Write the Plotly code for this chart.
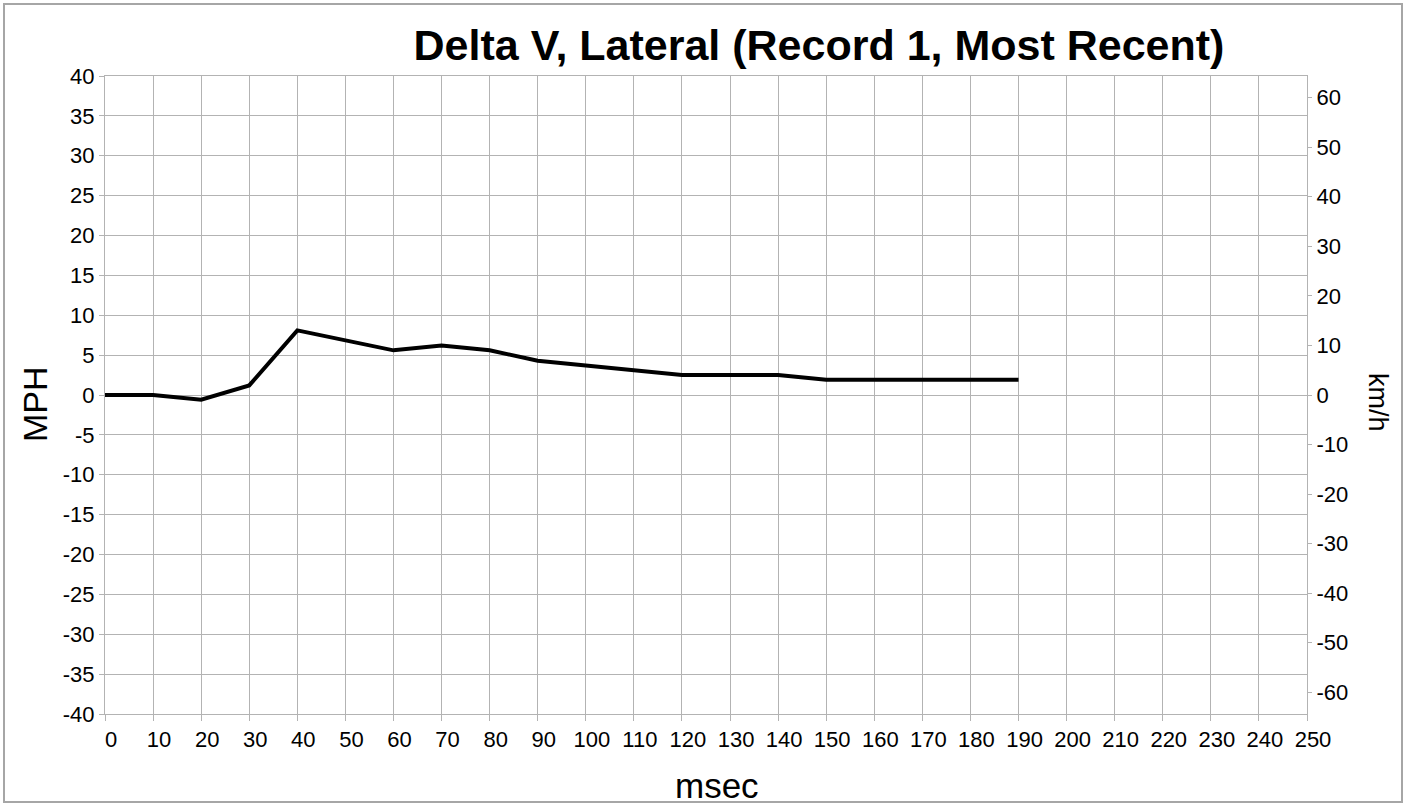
import plotly.graph_objects as go

# ---- data ----
time_ms = [0, 10, 20, 30, 40, 50, 60, 70, 80, 90, 100, 110, 120, 130, 140, 150, 160, 170, 180, 190]
delta_v_mph = [0, 0, -0.6, 1.2, 8.1, 6.8, 5.6, 6.2, 5.6, 4.3, 3.7, 3.1, 2.5, 2.5, 2.5, 1.9, 1.9, 1.9, 1.9, 1.9]
x_ticks = list(range(0, 251, 10))
mph_ticks = list(range(-40, 41, 5))
kmh_ticks = list(range(-60, 61, 10))
MPH_TO_KMH = 1.609344

title_text = "Delta V, Lateral (Record 1, Most Recent)"

W, H = 1409, 804
L, R, T, B = 105, 102, 76, 90
PW, PH = W - L - R, H - T - B

def px_x(px):
    return (px - L) / PW

def px_y(py):
    return (H - B - py) / PH

FONT = "Liberation Sans, Arial, sans-serif"
GRID = "#b3b3b3"

fig = go.Figure()
fig.add_trace(go.Scatter(x=time_ms, y=delta_v_mph, mode="lines",
                         line=dict(color="black", width=4),
                         showlegend=False, hoverinfo="x+y"))
fig.add_trace(go.Scatter(x=time_ms, y=[v * MPH_TO_KMH for v in delta_v_mph],
                         mode="lines", yaxis="y2", line=dict(width=0, color="rgba(0,0,0,0)"),
                         showlegend=False, hoverinfo="skip"))

fig.update_layout(
    width=W, height=H,
    margin=dict(l=L, r=R, t=T, b=B, pad=0),
    paper_bgcolor="white", plot_bgcolor="white",
    font=dict(family=FONT, color="black", size=22),
    title=dict(text=title_text, xref="paper", x=px_x(819), xanchor="center",
               yref="container", y=1 - 45 / H, yanchor="middle",
               font=dict(family=FONT, size=43, weight="bold", color="black")),
    xaxis=dict(range=[0, 250], tickvals=x_ticks, ticktext=[str(v) for v in x_ticks],
               showgrid=True, gridcolor=GRID, gridwidth=1,
               showline=True, linecolor=GRID, linewidth=1, mirror=True,
               ticks="outside", ticklen=6, tickcolor=GRID, tickwidth=1,
               ticklabelshift=6, zeroline=False,
               tickfont=dict(size=22, family=FONT, color="black")),
    yaxis=dict(range=[-40, 40], tickvals=mph_ticks, ticktext=[str(v) for v in mph_ticks],
               showgrid=True, gridcolor=GRID, gridwidth=1,
               showline=True, linecolor=GRID, linewidth=1, mirror=True,
               ticks="outside", ticklen=5, tickcolor=GRID, tickwidth=1,
               zeroline=False,
               tickfont=dict(size=22, family=FONT, color="black")),
    yaxis2=dict(range=[-40 * MPH_TO_KMH, 40 * MPH_TO_KMH], overlaying="y", side="right",
                tickvals=kmh_ticks, ticktext=[str(v) for v in kmh_ticks],
                showgrid=False, zeroline=False, showline=False,
                ticks="outside", ticklen=4, tickcolor=GRID, tickwidth=1,
                tickfont=dict(size=22, family=FONT, color="black")),
    shapes=[dict(type="rect", xref="paper", yref="paper",
                 x0=px_x(4), x1=px_x(1402), y0=px_y(802), y1=px_y(4),
                 line=dict(color="#a6a6a6", width=2), fillcolor="rgba(0,0,0,0)",
                 layer="below")],
    annotations=[
        dict(text="MPH", xref="paper", yref="paper", x=px_x(35), y=px_y(404),
             xanchor="center", yanchor="middle", textangle=-90, showarrow=False,
             font=dict(family=FONT, size=34, color="black")),
        dict(text="msec", xref="paper", yref="paper", x=px_x(717), y=px_y(785),
             xanchor="center", yanchor="middle", showarrow=False,
             font=dict(family=FONT, size=35, color="black")),
        dict(text="km/h", xref="paper", yref="paper", x=px_x(1378), y=px_y(402),
             xanchor="center", yanchor="middle", textangle=90, showarrow=False,
             font=dict(family=FONT, size=27, color="black")),
    ],
)

fig.write_html("out.html",
               config={"displayModeBar": False},
               post_script="document.body.style.margin='0px';document.body.style.overflow='hidden';")
